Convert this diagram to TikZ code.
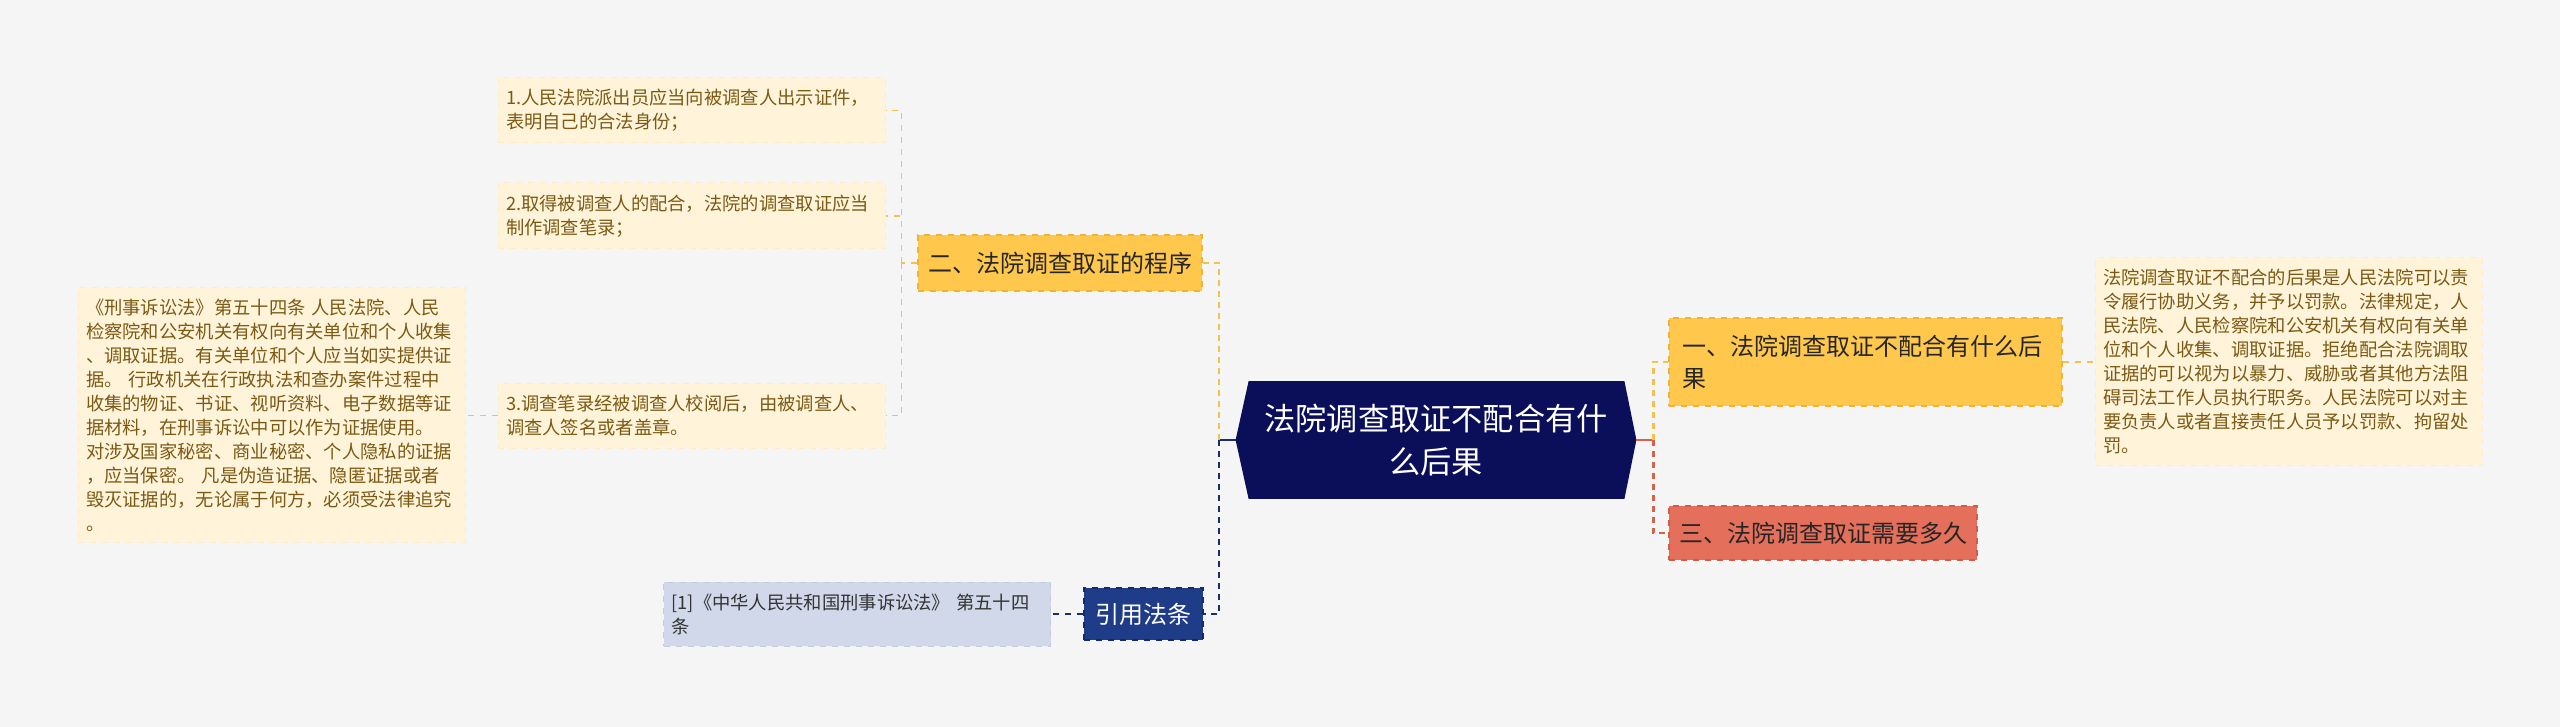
\documentclass[tikz,border=0pt]{standalone}
\usepackage{fontspec}
\newfontfamily\cjk{Noto Sans CJK SC}
\usetikzlibrary{positioning}
\usetikzlibrary{backgrounds}

\definecolor{bgc}{HTML}{F5F5F5}
\definecolor{rootc}{HTML}{0B0F59}
\definecolor{yfill}{HTML}{FFC84C}
\definecolor{yedge}{HTML}{EDB537}
\definecolor{rfill}{HTML}{E4705B}
\definecolor{redge}{HTML}{D15C47}
\definecolor{leaffill}{HTML}{FFF3D9}
\definecolor{leafedge}{HTML}{FCECC8}
\definecolor{leaftext}{HTML}{7A5A14}
\definecolor{citefill}{HTML}{1F3C88}
\definecolor{citeedge}{HTML}{132B6B}
\definecolor{reffill}{HTML}{D1D8EA}
\definecolor{refedge}{HTML}{C3CBE0}
\definecolor{ylinec}{HTML}{F2C14E}
\definecolor{nlinec}{HTML}{1A2E6E}
\definecolor{rlinec}{HTML}{D5634C}

\tikzset{
  rootbox/.style={rectangle, minimum width=200pt, minimum height=58.5pt,
    text width=180pt, align=center, text=white, inner sep=0pt,
    font=\cjk\fontsize{15.6}{21.5}\selectfont},
  ybox/.style={rectangle, fill=yfill, draw=yedge, dashed, line width=0.6pt,
    text=black!85, inner sep=0pt, font=\cjk\fontsize{12}{16}\selectfont},
  rbox/.style={ybox, fill=rfill, draw=redge},
  citebox/.style={ybox, fill=citefill, draw=citeedge, text=white},
  leaf/.style={rectangle, fill=leaffill, draw=leafedge, dashed, line width=0.5pt,
    text=leaftext, align=left, text width=185.5pt, inner xsep=4pt, inner ysep=2pt,
    font=\cjk\fontsize{9.15}{12}\selectfont},
  refbox/.style={leaf, fill=reffill, draw=refedge, text=black!80},
  nsolid/.style={draw=nlinec, line width=1.1pt},
  rsolid/.style={draw=rlinec, line width=1.1pt},
  ybranch/.style={draw=ylinec, line width=1.1pt, dash pattern=on 3pt off 2.5pt},
  nbranch/.style={draw=nlinec, line width=1.1pt, dash pattern=on 3pt off 2.5pt},
  rbranch/.style={draw=rlinec, line width=1.1pt, dash pattern=on 3pt off 2.5pt},
  yleaf/.style={draw=ylinec, line width=0.7pt, dash pattern=on 3pt off 3pt},
  nleaf/.style={draw=nlinec, line width=0.8pt, dash pattern=on 3pt off 3pt}
}

\begin{document}
\begin{tikzpicture}[x=0.5pt,y=-0.5pt]
  \useasboundingbox (0,0) rectangle (2560,727);

  % centre
  \node[rootbox] (root) at (1436,440) {法院调查取证不配合有什\\么后果};

  % left branches
  \node[ybox, minimum width=142pt, minimum height=28pt] (proc) at (1060,263) {二、法院调查取证的程序};
  \node[citebox, minimum width=59.5pt, minimum height=26pt] (cite) at (1143.5,614) {引用法条};

  \node[leaf, minimum height=32.5pt] (step1) at (691.5,110.5)
    {1.人民法院派出员应当向被调查人出示证件，\\表明自己的合法身份；};
  \node[leaf, minimum height=33pt] (step2) at (691.5,216)
    {2.取得被调查人的配合，法院的调查取证应当\\制作调查笔录；};
  \node[leaf, minimum height=32.5pt] (step3) at (691.5,415.5)
    {3.调查笔录经被调查人校阅后，由被调查人、\\调查人签名或者盖章。};
  \node[leaf, minimum height=127pt] (law) at (271.5,415)
    {《刑事诉讼法》第五十四条 人民法院、人民\\
     检察院和公安机关有权向有关单位和个人收集\\
     、调取证据。有关单位和个人应当如实提供证\\
     据。 行政机关在行政执法和查办案件过程中\\
     收集的物证、书证、视听资料、电子数据等证\\
     据材料，在刑事诉讼中可以作为证据使用。\\
     对涉及国家秘密、商业秘密、个人隐私的证据\\
     ，应当保密。 凡是伪造证据、隐匿证据或者\\
     毁灭证据的，无论属于何方，必须受法律追究\\
     。};
  \node[refbox, minimum height=32pt] (ref) at (857,614)
    {[1]《中华人民共和国刑事诉讼法》 第五十四\\条};

  % right branches
  \node[ybox, minimum width=196.5pt, minimum height=44pt, text width=183pt, align=left] (conseq) at (1865.5,362)
    {一、法院调查取证不配合有什么后\\果};
  \node[rbox, minimum width=154pt, minimum height=27pt] (howlong) at (1823,533) {三、法院调查取证需要多久};
  \node[leaf, minimum height=103.5pt] (detail) at (2288.5,361.5)
    {法院调查取证不配合的后果是人民法院可以责\\
     令履行协助义务，并予以罚款。法律规定，人\\
     民法院、人民检察院和公安机关有权向有关单\\
     位和个人收集、调取证据。拒绝配合法院调取\\
     证据的可以视为以暴力、威胁或者其他方法阻\\
     碍司法工作人员执行职务。人民法院可以对主\\
     要负责人或者直接责任人员予以罚款、拘留处\\
     罚。};

  % connectors
  \draw[nsolid] (root.west) -- ++(-17,0) coordinate (jl);
  \draw[ybranch] (jl) |- (proc.east);
  \draw[nbranch] (jl) |- (cite.east);
  \draw[yleaf] (proc.west) -- ++(-16,0) coordinate (jp);
  \draw[yleaf] (jp) |- (step1.east);
  \draw[yleaf] (jp) |- (step2.east);
  \draw[yleaf] (jp) |- (step3.east);
  \draw[yleaf] (step3.west) -- (step3.west -| law.east);
  \draw[nleaf] (cite.west) -- (ref.east);
  \draw[rsolid] (root.east) -- ++(17,0) coordinate (jr);
  \draw[ybranch] (jr) |- (conseq.west);
  \draw[rbranch] (jr) |- (howlong.west);
  \draw[yleaf] (conseq.east) -- (conseq.east -| detail.west);

  \begin{scope}[on background layer]
    \fill[bgc] (0,0) rectangle (2560,727);
    \fill[rootc] (root.west) -- ([xshift=6.5pt]root.north west) -- ([xshift=-6pt]root.north east)
      -- (root.east) -- ([xshift=-6pt]root.south east) -- ([xshift=6.5pt]root.south west) -- cycle;
  \end{scope}
\end{tikzpicture}
\end{document}
